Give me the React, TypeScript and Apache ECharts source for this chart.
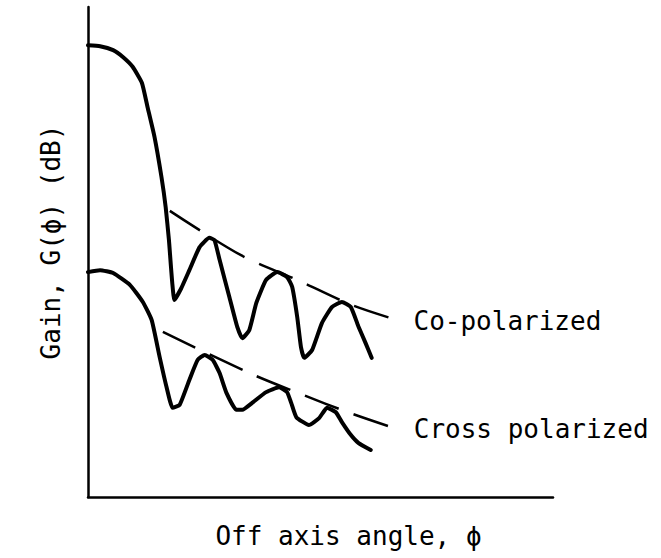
import React, { useEffect, useRef } from "react";
import * as echarts from "echarts";

// Off-axis angle (arbitrary units, 0..100) and gain (arbitrary dB units, 0..100)
const coAngle = [0, 2.6, 5.4, 7.5, 9.6, 11.6, 12.8, 14.3, 15.8, 16.7, 17.4, 18.6, 20.0, 21.8, 24.0, 26.1, 27.2, 28.3, 30.4, 32.1, 33.2, 34.7, 36.2, 38.3, 40.7, 42.8, 43.9, 45.0, 45.8, 46.5, 48.2, 50.3, 52.5, 54.6, 56.5, 58.2, 59.7, 61.0];
const coGain = [92.2, 92.0, 91.2, 89.8, 87.8, 84.5, 79.6, 73.5, 65.3, 59.2, 52.5, 40.2, 42.5, 46.3, 51.0, 52.9, 52.4, 48.4, 40.8, 34.7, 32.4, 34.1, 39.6, 44.3, 45.9, 44.9, 42.9, 36.7, 30.6, 28.4, 30.0, 35.5, 38.8, 39.8, 38.8, 34.7, 31.4, 28.4];

const crossAngle = [0, 2.6, 5.4, 9.0, 11.8, 13.7, 15.4, 16.9, 18.2, 19.7, 21.8, 23.6, 25.1, 26.8, 28.3, 29.8, 31.9, 33.2, 35.3, 38.3, 41.1, 42.8, 43.7, 44.8, 47.5, 49.7, 51.4, 53.3, 54.6, 56.5, 58.2, 60.8];
const crossGain = [45.9, 46.3, 45.7, 43.3, 39.8, 36.1, 28.6, 22.4, 18.2, 18.8, 23.9, 28.0, 29.0, 28.0, 25.3, 21.2, 17.8, 17.8, 19.2, 21.4, 22.4, 21.4, 19.2, 16.3, 14.7, 16.1, 18.2, 17.3, 15.3, 12.7, 11.0, 9.6];

// Envelope (dashed) lines
const coEnvAngle = [17.6, 32.8, 45.0, 56.7, 67.2];
const coEnvGain = [58.4, 49.4, 44.3, 39.2, 35.9];
const crossEnvAngle = [16.1, 34.7, 45.8, 56.5, 66.4];
const crossEnvGain = [33.7, 25.3, 21.0, 17.1, 13.9];

const seriesNames = ["Co-polarized", "Cross polarized"];
const xAxisName = "Off axis angle, \u03d5";
const yAxisName = "Gain, G(\u03d5) (dB)";

const zip = (a: number[], b: number[]) => a.map((v, i) => [v, b[i]]);

const FONT = "'DejaVu Sans Mono', 'Liberation Mono', monospace";

export default function App() {
  const ref = useRef<HTMLDivElement>(null);
  useEffect(() => {
    if (!ref.current) return;
    const chart = echarts.init(ref.current, null, { renderer: "svg" });
    const curve = (name: string, data: number[][]) => ({
      type: "line",
      name,
      data,
      showSymbol: false,
      smooth: 0.15,
      lineStyle: { color: "#000", width: 4, join: "round", cap: "round" },
      silent: true,
    });
    const env = (name: string, data: number[][], dist: number) => ({
      type: "line",
      name,
      data,
      showSymbol: false,
      smooth: 0.3,
      lineStyle: { color: "#000", width: 2.5, type: [36, 16] },
      silent: true,
      endLabel: {
        show: true,
        formatter: name,
        distance: dist,
        color: "#000",
        fontFamily: FONT,
        fontSize: 26,
      },
    });
    chart.setOption({
      animation: false,
      backgroundColor: "#fff",
      grid: { left: 88, right: 108, top: 7, bottom: 61 },
      xAxis: {
        type: "value",
        min: 0,
        max: 100,
        name: xAxisName,
        nameLocation: "middle",
        nameGap: 26,
        nameTextStyle: { color: "#000", fontFamily: FONT, fontSize: 26, padding: [0, 0, 0, 56] },
        axisLine: { show: true, lineStyle: { color: "#000", width: 2.5 } },
        axisTick: { show: false },
        axisLabel: { show: false },
        splitLine: { show: false },
      },
      yAxis: {
        type: "value",
        min: 0,
        max: 100,
        name: yAxisName,
        nameLocation: "middle",
        nameGap: 24,
        nameTextStyle: { color: "#000", fontFamily: FONT, fontSize: 26, padding: [0, 0, 0, 20] },
        axisLine: { show: true, lineStyle: { color: "#000", width: 2.5 } },
        axisTick: { show: false },
        axisLabel: { show: false },
        splitLine: { show: false },
      },
      series: [
        curve(seriesNames[0] + " pattern", zip(coAngle, coGain)),
        curve(seriesNames[1] + " pattern", zip(crossAngle, crossGain)),
        env(seriesNames[0], zip(coEnvAngle, coEnvGain), 13),
        env(seriesNames[1], zip(crossEnvAngle, crossEnvGain), 17),
      ],
    });
    return () => chart.dispose();
  }, []);
  return <div ref={ref} style={{ width: 661, height: 558, position: "absolute", left: 0, top: 0 }} />;
}
